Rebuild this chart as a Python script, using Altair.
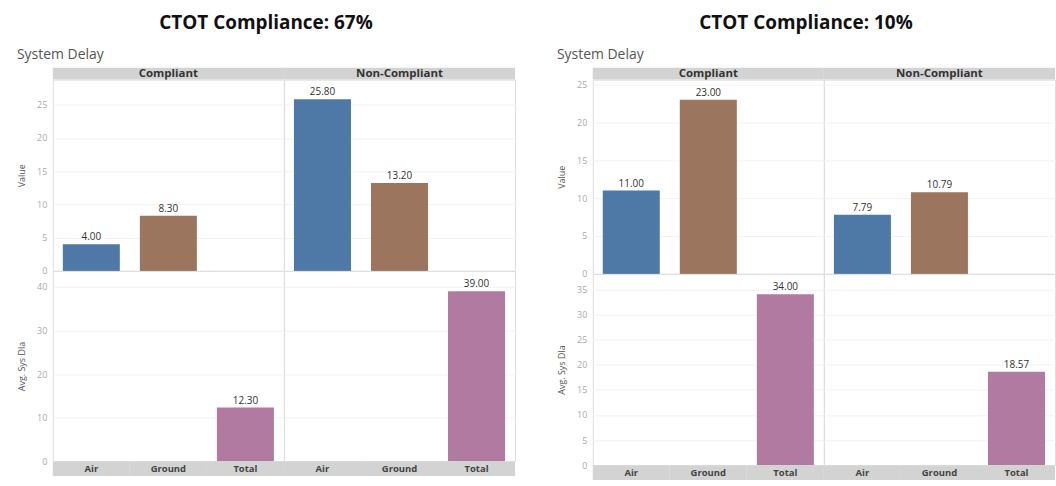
import altair as alt
import pandas as pd

# ---------------- data ----------------
groups = ["Compliant", "Non-Compliant"]
types = ["Air", "Ground", "Total"]
titles = ["CTOT Compliance: 67%", "CTOT Compliance: 10%"]

left_air = [4.00, 25.80]
left_ground = [8.30, 13.20]
left_total = [12.30, 39.00]

right_air = [11.00, 7.79]
right_ground = [23.00, 10.79]
right_total = [34.00, 18.57]

top_tick_steps = [5, 5]
bottom_tick_steps = [10, 5]

colors = ["#4e79a7", "#9c755f", "#b07aa1"]

FONT = "Open Sans"
CELL_W = 232
NO_STROKE = alt.ViewBackground(stroke="transparent")


def make_frame(air, ground, total):
    rows = []
    for i, g in enumerate(groups):
        rows.append({"Group": g, "Type": "Air", "Value": air[i], "Row": "top"})
        rows.append({"Group": g, "Type": "Ground", "Value": ground[i], "Row": "top"})
        rows.append({"Group": g, "Type": "Total", "Value": total[i], "Row": "bottom"})
    return pd.DataFrame(rows)


def xenc():
    return alt.X("Type:N", scale=alt.Scale(domain=types, paddingInner=0.26, paddingOuter=0.13), axis=None)


def cell(df, group, dmax, step, height, show_axis, ytitle):
    d = df[df.Group == group]
    x = xenc()
    ticks = list(range(0, int(dmax) + 1, step))
    if show_axis:
        ax = alt.Axis(values=ticks, title=ytitle, titleFontSize=9, titleFontWeight="normal",
                      titleColor="#555555", titleFont=FONT, labelFont=FONT, labelColor="#aaaaaa",
                      labelFontSize=9, domain=False, ticks=False, grid=True, gridColor="#f3f3f3",
                      labelPadding=6, titlePadding=10)
    else:
        ax = alt.Axis(values=ticks, title="", labels=False, domain=False, ticks=False,
                      grid=True, gridColor="#f3f3f3")
    y = alt.Y("Value:Q", scale=alt.Scale(domain=[0, dmax], nice=False), axis=ax)
    base = alt.Chart(d)
    bars = base.mark_bar().encode(
        x=x, y=y,
        color=alt.Color("Type:N", scale=alt.Scale(domain=types, range=colors), legend=None),
    )
    labels = base.mark_text(dy=-7, fontSize=10, color="#333333", font=FONT).encode(
        x=x, y=y, text=alt.Text("Value:Q", format=".2f")
    )
    return alt.layer(bars, labels).properties(width=CELL_W, height=height)


def header_cell(group, with_title):
    hdf = pd.DataFrame({"Group": [group]})
    ch = alt.layer(
        alt.Chart(hdf).mark_rect(color="#d3d3d3"),
        alt.Chart(hdf).mark_text(fontWeight="bold", fontSize=11.5, color="#333333", font=FONT).encode(
            text="Group:N"),
    )
    if with_title:
        return ch.properties(
            width=CELL_W, height=12, view=NO_STROKE,
            title=alt.TitleParams("System Delay", anchor="start", dx=-36, fontSize=14, font=FONT,
                                  fontWeight="normal", color="#555555", offset=6),
        )
    return ch.properties(width=CELL_W, height=12, view=NO_STROKE)


def footer_cell():
    fdf = pd.DataFrame({"Type": types})
    fx = alt.X("Type:N", scale=alt.Scale(domain=types, paddingInner=0, paddingOuter=0), axis=None)
    return alt.layer(
        alt.Chart(fdf).mark_rect(color="#d3d3d3").encode(x=fx),
        alt.Chart(fdf).mark_text(fontWeight="bold", fontSize=9.5, color="#444444", font=FONT).encode(
            x=fx, text="Type:N"),
    ).properties(width=CELL_W, height=15, view=NO_STROKE)


def side(df, title, top_step, bottom_step, top_h, bottom_h):
    top = df[df.Row == "top"]
    bottom = df[df.Row == "bottom"]
    tmax = top.Value.max() * 1.115
    bmax = bottom.Value.max() * 1.12
    return alt.concat(
        header_cell(groups[0], True),
        header_cell(groups[1], False),
        cell(top, groups[0], tmax, top_step, top_h, True, "Value"),
        cell(top, groups[1], tmax, top_step, top_h, False, "Value"),
        cell(bottom, groups[0], bmax, bottom_step, bottom_h, True, "Avg. Sys Dla"),
        cell(bottom, groups[1], bmax, bottom_step, bottom_h, False, "Avg. Sys Dla"),
        footer_cell(),
        footer_cell(),
        columns=2, spacing=0, bounds="flush",
    ).properties(
        title=alt.TitleParams(title, anchor="middle", fontSize=19, font=FONT, fontWeight="bold",
                              color="#111111", offset=14)
    )


left_df = make_frame(left_air, left_ground, left_total)
right_df = make_frame(right_air, right_ground, right_total)

chart = alt.hconcat(
    side(left_df, titles[0], top_tick_steps[0], bottom_tick_steps[0], 192, 191),
    side(right_df, titles[1], top_tick_steps[1], bottom_tick_steps[1], 195, 192),
    spacing=40,
).configure_view(stroke="#e4e4e4").configure(
    padding={"left": 16, "top": 13, "right": 0, "bottom": 0}
)

chart.save("out.html", embed_options={"renderer": "svg", "actions": False})
